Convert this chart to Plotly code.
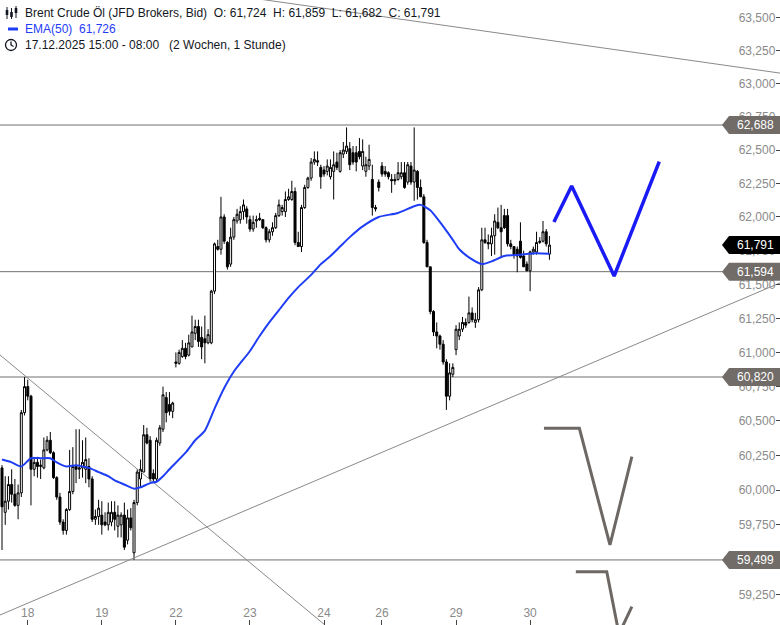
import math
import plotly.graph_objects as go

W, H = 780, 625

# ---------------- data (hourly candles, Brent Crude, JFD Brokers) ----------------
day_labels = ["18", "19", "22", "23", "24", "26", "29", "30"]
day_start_idx = [8, 31, 54, 77, 100, 118, 141, 164]

open_ = [
    60.16, 59.84, 59.92, 60.04, 59.97, 59.89, 59.98, 60.56, 60.75, 60.68,
    60.15, 60.20, 60.17, 60.16, 60.29, 60.36, 60.27, 60.09, 59.95, 59.77,
    59.71, 59.86, 59.99, 60.17, 60.15, 60.16, 60.15, 60.17, 60.08, 59.79,
    59.81, 59.82, 59.77, 59.75, 59.77, 59.84, 59.74, 59.75, 59.82, 59.64,
    59.80, 59.55, 59.91, 60.08, 60.13, 60.40, 60.36, 60.12, 60.08, 60.34,
    60.44, 60.67, 60.62, 60.57, 60.93, 60.92, 60.97, 61.03, 60.98, 61.04,
    61.14, 61.19, 61.11, 61.10, 61.07, 61.07, 61.45, 61.78, 61.76, 62.00,
    61.81, 61.65, 61.85, 61.97, 61.98, 62.04, 62.06, 61.98, 61.91, 61.97,
    61.99, 61.98, 61.92, 61.83, 61.89, 61.92, 62.01, 62.04, 62.04, 62.13,
    62.13, 62.19, 61.81, 61.78, 62.07, 62.22, 62.29, 62.41, 62.42, 62.37,
    62.35, 62.34, 62.30, 62.34, 62.41, 62.34, 62.47, 62.49, 62.51, 62.48,
    62.48, 62.49, 62.38, 62.34, 62.38, 62.28, 62.07, 62.26, 62.38, 62.34,
    62.33, 62.28, 62.28, 62.28, 62.30, 62.33, 62.26, 62.38, 62.26, 62.34,
    62.22, 62.15, 61.81, 61.63, 61.30, 61.15, 61.12, 61.06, 60.93, 60.68,
    60.84, 61.02, 61.12, 61.17, 61.22, 61.22, 61.29, 61.22, 61.24, 61.46,
    61.83, 61.81, 61.80, 61.86, 61.96, 61.92, 62.01, 62.01, 61.80, 61.78,
    61.76, 61.82, 61.71, 61.65, 61.60, 61.74, 61.74, 61.81, 61.82, 61.89,
    61.724,
]
high = [
    60.18, 60.10, 60.10, 60.15, 60.08, 60.04, 60.58, 60.82, 60.80, 60.69,
    60.24, 60.24, 60.22, 60.38, 60.39, 60.42, 60.28, 60.10, 59.98, 59.79,
    59.87, 60.29, 60.31, 60.44, 60.44, 60.36, 60.38, 60.23, 60.10, 59.86,
    59.93, 59.92, 59.84, 59.91, 59.92, 59.92, 59.89, 59.84, 59.91, 59.86,
    59.87, 59.93, 60.15, 60.22, 60.47, 60.45, 60.39, 60.15, 60.38, 60.47,
    60.75, 60.71, 60.71, 60.64, 61.00, 61.02, 61.09, 61.07, 61.13, 61.27,
    61.24, 61.24, 61.19, 61.27, 61.17, 61.46, 61.81, 61.83, 62.15, 62.02,
    61.82, 61.92, 62.00, 62.06, 62.08, 62.13, 62.08, 62.01, 62.01, 62.01,
    62.03, 61.98, 61.93, 61.91, 61.96, 62.03, 62.13, 62.09, 62.19, 62.21,
    62.27, 62.22, 61.89, 62.09, 62.24, 62.30, 62.44, 62.49, 62.49, 62.39,
    62.38, 62.43, 62.43, 62.49, 62.48, 62.50, 62.56, 62.67, 62.56, 62.53,
    62.53, 62.59, 62.58, 62.45, 62.54, 62.39, 62.09, 62.28, 62.41, 62.38,
    62.34, 62.32, 62.32, 62.41, 62.41, 62.41, 62.41, 62.41, 62.67, 62.35,
    62.28, 62.17, 61.83, 61.63, 61.31, 61.22, 61.13, 61.09, 60.95, 60.92,
    60.92, 61.20, 61.22, 61.26, 61.25, 61.41, 61.33, 61.29, 61.48, 61.92,
    61.92, 61.87, 61.92, 62.02, 62.07, 62.09, 62.06, 62.06, 61.83, 61.78,
    61.78, 61.96, 61.75, 61.67, 61.75, 61.78, 61.89, 61.85, 61.97, 61.91,
    61.859,
]
low = [
    59.57, 59.75, 59.86, 59.91, 59.88, 59.79, 59.95, 60.54, 60.65, 59.89,
    60.10, 60.09, 60.08, 60.15, 60.28, 60.26, 60.08, 59.93, 59.75, 59.68,
    59.68, 59.85, 59.97, 60.05, 60.08, 60.09, 60.05, 60.02, 59.77, 59.75,
    59.75, 59.68, 59.74, 59.71, 59.74, 59.71, 59.66, 59.66, 59.57, 59.61,
    59.71, 59.50, 59.89, 60.02, 60.13, 60.33, 60.06, 60.06, 60.06, 60.32,
    60.42, 60.49, 60.54, 60.52, 60.89, 60.91, 60.96, 60.95, 60.97, 61.04,
    61.09, 61.04, 60.95, 60.92, 61.06, 61.06, 61.43, 61.75, 61.72, 61.80,
    61.61, 61.63, 61.83, 61.95, 61.95, 61.98, 61.95, 61.89, 61.89, 61.92,
    61.97, 61.91, 61.81, 61.81, 61.86, 61.91, 62.00, 62.01, 62.00, 62.12,
    62.12, 61.79, 61.78, 61.74, 62.06, 62.21, 62.27, 62.39, 62.38, 62.21,
    62.30, 62.31, 62.28, 62.13, 62.35, 62.33, 62.44, 62.47, 62.35, 62.39,
    62.34, 62.43, 62.35, 62.30, 62.35, 62.01, 62.04, 62.19, 62.30, 62.30,
    62.28, 62.18, 62.24, 62.27, 62.28, 62.21, 62.24, 62.24, 62.12, 62.13,
    62.15, 61.80, 61.63, 61.28, 61.12, 61.03, 61.02, 60.91, 60.58, 60.65,
    60.82, 60.98, 61.09, 61.15, 61.18, 61.21, 61.22, 61.18, 61.22, 61.45,
    61.80, 61.76, 61.71, 61.72, 61.91, 61.70, 61.91, 61.78, 61.76, 61.69,
    61.59, 61.69, 61.63, 61.60, 61.45, 61.72, 61.72, 61.80, 61.81, 61.78,
    61.682,
]
close = [
    59.88, 59.92, 60.04, 59.97, 59.89, 59.98, 60.56, 60.75, 60.68, 60.15,
    60.20, 60.17, 60.18, 60.29, 60.36, 60.27, 60.09, 59.95, 59.77, 59.71,
    59.86, 59.99, 60.17, 60.15, 60.16, 60.20, 60.22, 60.08, 59.79, 59.81,
    59.87, 59.75, 59.75, 59.84, 59.84, 59.79, 59.82, 59.82, 59.59, 59.80,
    59.73, 59.91, 60.13, 60.15, 60.40, 60.34, 60.08, 60.08, 60.36, 60.45,
    60.69, 60.56, 60.57, 60.63, 60.92, 61.00, 61.03, 60.97, 61.07, 61.15,
    61.19, 61.08, 61.04, 61.07, 61.13, 61.45, 61.80, 61.76, 62.00, 61.82,
    61.63, 61.85, 61.98, 62.02, 62.04, 62.09, 62.00, 61.91, 61.96, 61.98,
    61.98, 61.92, 61.83, 61.89, 61.92, 62.01, 62.09, 62.07, 62.13, 62.15,
    62.19, 61.81, 61.78, 62.07, 62.22, 62.29, 62.41, 62.43, 62.41, 62.30,
    62.32, 62.38, 62.37, 62.39, 62.37, 62.48, 62.50, 62.53, 62.39, 62.41,
    62.41, 62.45, 62.49, 62.39, 62.43, 62.07, 62.06, 62.22, 62.32, 62.32,
    62.30, 62.27, 62.27, 62.33, 62.33, 62.22, 62.39, 62.26, 62.35, 62.22,
    62.15, 61.81, 61.63, 61.30, 61.15, 61.12, 61.06, 60.93, 60.68, 60.85,
    60.89, 61.17, 61.17, 61.22, 61.20, 61.29, 61.24, 61.24, 61.46, 61.83,
    61.81, 61.80, 61.86, 61.97, 61.92, 61.89, 61.92, 61.80, 61.78, 61.72,
    61.71, 61.70, 61.63, 61.60, 61.74, 61.76, 61.81, 61.82, 61.89, 61.80,
    61.791,
]

# EMA(50)
ema_idx = [0, 3, 6, 9, 12, 15, 17, 20, 23, 25, 27, 30, 33, 35, 38, 41, 43, 46, 48, 50,
           52, 57, 60, 63, 66, 69, 72, 77, 80, 83, 86, 89, 92, 96, 99, 102, 105, 108, 112, 117,
           123, 128, 130, 133, 137, 140, 142, 145, 149, 152, 156, 161, 166, 170]
ema_val = [60.22, 60.20, 60.17, 60.23, 60.23, 60.23, 60.20, 60.17, 60.18, 60.17,
           60.16, 60.13, 60.10, 60.07, 60.04, 60.01, 60.02, 60.05, 60.06, 60.10,
           60.15, 60.27, 60.36, 60.43, 60.59, 60.74, 60.86, 61.01, 61.12, 61.22,
           61.31, 61.40, 61.48, 61.57, 61.65, 61.71, 61.78, 61.85, 61.93, 62.00,
           62.03, 62.08, 62.09, 62.05, 61.93, 61.83, 61.76, 61.70, 61.65, 61.67,
           61.71, 61.72, 61.73, 61.726]
ema_last = 61.726

# horizontal levels (price tags) and last price
levels = [62.688, 61.594, 60.820, 59.499]
last_price = 61.791

# drawn trend lines (candle index, price)
trend_top = ([70.8, 241.6], [63.675, 63.08])
trend_up = ([-0.62, 241.6], [59.107, 61.511])
trend_down = ([-0.62, 100.3], [60.981, 59.036])

# drawn projections (candle index, price)
proj_blue = ([171.4, 176.9, 190.1, 204.1], [61.963, 62.231, 61.562, 62.413])
proj_gray1 = ([168.3, 179.3, 188.8, 195.6], [60.447, 60.447, 59.606, 60.241])
proj_gray2 = ([178.2, 187.8, 191.6, 195.6], [59.415, 59.415, 58.973, 59.166])

y_tick_vals = [59.25, 59.5, 59.75, 60.0, 60.25, 60.5, 60.75, 61.0, 61.25, 61.5,
               61.75, 62.0, 62.25, 62.5, 62.75, 63.0, 63.25, 63.5]
y_tick_text = ["59,250", "59,500", "59,750", "60,000", "60,250", "60,500", "60,750",
               "61,000", "61,250", "61,500", "61,750", "62,000", "62,250", "62,500",
               "62,750", "63,000", "63,250", "63,500"]

X_RANGE = [-0.62, 241.6]
Y_RANGE = [59.036, 63.636]

# ---------------- figure ----------------
FONT = "Liberation Sans, Arial, sans-serif"
LO, HI = math.log10(Y_RANGE[0]), math.log10(Y_RANGE[1])


def ypaper(v):
    return (math.log10(v) - LO) / (HI - LO)


def px(x):
    return x / W


def py(y):
    return 1 - y / H


def fmt(v):
    return f"{v:.3f}".replace(".", ",")


fig = go.Figure()

line_gray = "#8a8a8a"
for xs, ys in (trend_top, trend_up, trend_down):
    fig.add_trace(go.Scatter(x=xs, y=ys, mode="lines",
                             line=dict(color=line_gray, width=1), hoverinfo="skip"))

n = len(close)
fig.add_trace(go.Candlestick(
    x=list(range(n)), open=open_, high=high, low=low, close=close,
    increasing=dict(line=dict(color="#000000", width=1), fillcolor="#ffffff"),
    decreasing=dict(line=dict(color="#000000", width=1), fillcolor="#000000"),
    whiskerwidth=0, showlegend=False,
))

fig.add_trace(go.Scatter(x=ema_idx, y=ema_val, mode="lines",
                         line=dict(color="#1f3df5", width=2, shape="spline", smoothing=0.6),
                         hoverinfo="skip"))

fig.add_trace(go.Scatter(x=proj_blue[0], y=proj_blue[1], mode="lines",
                         line=dict(color="#1a1af5", width=3.5), hoverinfo="skip"))
for xs, ys in (proj_gray1, proj_gray2):
    fig.add_trace(go.Scatter(x=xs, y=ys, mode="lines",
                             line=dict(color="#6e6864", width=3), hoverinfo="skip"))

shapes = []
annotations = []

# horizontal level lines
for v in levels:
    yc = ypaper(v)
    shapes.append(dict(type="line", xref="paper", yref="paper", x0=0, x1=px(724),
                       y0=yc, y1=yc, line=dict(color="#707070", width=1), layer="below"))

# price tags
tag_h = 18 / H


def tag(v, color):
    yc = ypaper(v)
    path = (f"M {px(722)},{yc} L {px(729)},{yc + tag_h / 2} L 1,{yc + tag_h / 2} "
            f"L 1,{yc - tag_h / 2} L {px(729)},{yc - tag_h / 2} Z")
    shapes.append(dict(type="path", xref="paper", yref="paper", path=path,
                       fillcolor=color, line=dict(width=0), layer="above"))
    annotations.append(dict(xref="paper", yref="paper", x=px(755), y=yc, text=fmt(v),
                            showarrow=False, xanchor="center", yanchor="middle",
                            font=dict(family=FONT, size=12, color="#ffffff")))


for v in levels:
    tag(v, "#716c68")
tag(last_price, "#000000")

# header / legend
txt_color = "#131722"
annotations.append(dict(xref="paper", yref="paper", x=px(23), y=py(13),
                        xanchor="left", yanchor="middle", showarrow=False,
                        text=(f"Brent Crude Öl (JFD Brokers, Bid)  O: {fmt(open_[-1])}  "
                              f"H: {fmt(high[-1])}  L: {fmt(low[-1])}  C: {fmt(close[-1])}"),
                        font=dict(family=FONT, size=12, color=txt_color)))
annotations.append(dict(xref="paper", yref="paper", x=px(23), y=py(29),
                        xanchor="left", yanchor="middle", showarrow=False,
                        text=f"EMA(50)  {fmt(ema_last)}",
                        font=dict(family=FONT, size=12, color="#1f3df5")))
annotations.append(dict(xref="paper", yref="paper", x=px(23), y=py(45),
                        xanchor="left", yanchor="middle", showarrow=False,
                        text="17.12.2025 15:00 - 08:00   (2 Wochen, 1 Stunde)",
                        font=dict(family=FONT, size=12, color=txt_color)))

# icons
for cx, w0, w1, b0, b1 in ((7, 7, 19, 10, 15), (11.5, 8, 19, 12, 17), (16, 6, 18, 8, 13)):
    shapes.append(dict(type="line", xref="paper", yref="paper", x0=px(cx), x1=px(cx),
                       y0=py(w0), y1=py(w1), line=dict(color=txt_color, width=1)))
    shapes.append(dict(type="rect", xref="paper", yref="paper", x0=px(cx - 1.3), x1=px(cx + 1.3),
                       y0=py(b0), y1=py(b1), fillcolor=txt_color, line=dict(width=0)))
shapes.append(dict(type="line", xref="paper", yref="paper", x0=px(8), x1=px(18),
                   y0=py(29), y1=py(29), line=dict(color="#1f3df5", width=3)))
shapes.append(dict(type="circle", xref="paper", yref="paper", x0=px(5.5), x1=px(16.5),
                   y0=py(39.5), y1=py(50.5), line=dict(color=txt_color, width=1.3)))
shapes.append(dict(type="path", xref="paper", yref="paper",
                   path=f"M {px(11)},{py(41.5)} L {px(11)},{py(45)} L {px(13.5)},{py(46.5)}",
                   line=dict(color=txt_color, width=1.3)))

fig.update_layout(
    width=W, height=H,
    margin=dict(l=0, r=0, t=0, b=0, pad=0),
    paper_bgcolor="#ffffff", plot_bgcolor="#ffffff",
    showlegend=False,
    separators=",.",
    boxgap=0.12,
    shapes=shapes, annotations=annotations,
    font=dict(family=FONT, size=12, color="#888888"),
    xaxis=dict(range=X_RANGE, tickvals=day_start_idx, ticktext=day_labels,
               ticks="inside", ticklen=5, tickcolor="#444444", tickwidth=1,
               ticklabelposition="inside", tickfont=dict(family=FONT, size=12, color="#8a8a8a"),
               showgrid=False, zeroline=False, showline=False,
               rangeslider=dict(visible=False), fixedrange=True),
    yaxis=dict(type="log", range=[LO, HI], side="right",
               tickvals=y_tick_vals, ticktext=y_tick_text,
               ticks="inside", ticklen=4, tickcolor="#444444", tickwidth=1,
               ticklabelposition="inside", tickfont=dict(family=FONT, size=12, color="#8a8a8a"),
               showgrid=False, zeroline=False, showline=False, fixedrange=True),
)

fig.write_html("out.html",
               config={"displayModeBar": False, "staticPlot": True},
               post_script="document.body.style.margin='0';document.body.style.overflow='hidden';")
